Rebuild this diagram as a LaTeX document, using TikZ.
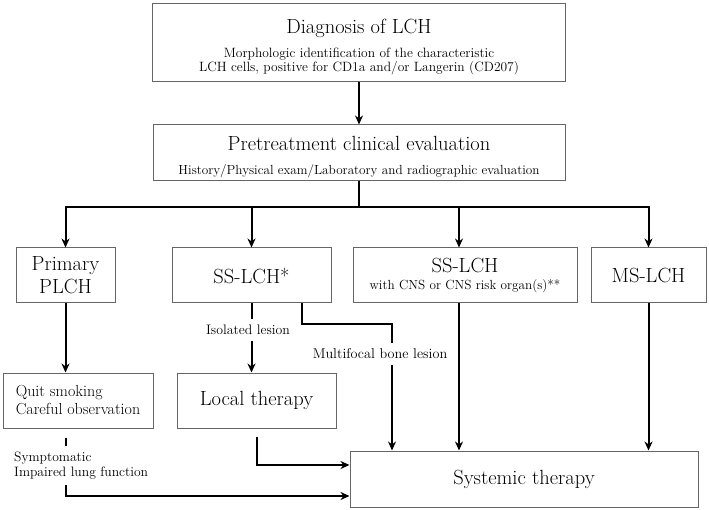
\documentclass[tikz,border=0pt]{standalone}
\usepackage{amsmath}
\usetikzlibrary{arrows.meta}

\begin{document}
\begin{tikzpicture}[x=1pt,y=-1pt,
    box/.style={draw=black!60, line width=1pt, align=center, inner sep=0pt, minimum height=55pt},
    big/.style={font=\fontsize{20.5}{23}\selectfont},
    arr/.style={line width=2pt, -{Stealth[length=9pt,width=8pt]}},
    line/.style={line width=2pt},
    lbl/.style={fill=white, inner xsep=2pt, inner ysep=6pt, font=\fontsize{13.8}{15}\selectfont}]
    \useasboundingbox (0,0) rectangle (709,510);
    % top boxes
    \node[box, minimum width=413pt, minimum height=78pt, font=\fontsize{13.5}{13.5}\selectfont] (diag) at (359,43)
        {{\fontsize{20.5}{23}\selectfont\rule{0pt}{22pt}Diagnosis of LCH}\\[10pt]
         Morphologic identification of the characteristic\\
         LCH cells, positive for CD1a and/or Langerin (CD207)};
    \node[box, minimum width=412pt, minimum height=56pt, font=\fontsize{13.2}{14}\selectfont] (pre) at (359,153)
        {{\fontsize{20.5}{23}\selectfont\rule{0pt}{22pt}Pretreatment clinical evaluation}\\[10pt]
         History/Physical exam/Laboratory and radiographic evaluation};
    % second row
    \node[box, big, minimum width=99pt] (plch) at (65.5,275.5) {Primary\\PLCH};
    \node[box, big, minimum width=159pt] (ss) at (251.5,275.5) {SS-LCH*};
    \node[box, big, minimum width=224pt] (cns) at (465,275.5)
        {SS-LCH\\[-6pt]{\fontsize{13.2}{14}\selectfont with CNS or CNS risk organ(s)**}};
    \node[box, big, minimum width=115pt] (ms) at (648.5,275.5) {MS-LCH};
    % third row
    \node[box, minimum width=150pt, align=left, font=\fontsize{16}{18}\selectfont] (quit) at (78,400.5)
        {Quit smoking\\Careful observation};
    \node[box, big, minimum width=159pt] (local) at (256.5,400.5) {Local therapy};
    \node[box, big, minimum width=348pt, minimum height=56pt] (sys) at (524,479) {Systemic therapy};

    % connectors
    \draw[arr] (diag) -- (pre);
    \coordinate (bar) at ([yshift=-26pt]pre.south);
    \draw[line] (pre.south) -- (bar);
    \draw[line, line cap=rect] (bar -| plch) -- (bar -| ms);
    \foreach \n in {plch,ss,ms}
        \draw[arr] (bar -| \n) -- (\n.north);
    \draw[arr] (bar -| 459,0) -- ([xshift=-6pt]cns.north);
    \draw[arr] (plch.south) -- (plch.south |- quit.north);
    \draw[arr] (ss.south) -- (ss.south |- local.north);
    \coordinate (mf) at (392,324);
    \draw[arr] ([xshift=50.5pt]ss.south) |- (mf) -- (mf |- sys.north);
    \draw[arr] ([xshift=-6pt]cns.south) -- ([xshift=-6pt]cns.south |- sys.north);
    \draw[arr] (ms.south) -- (ms.south |- sys.north);
    \draw[arr, shorten <=8pt] (local.south) |- ([yshift=14pt]sys.west);
    \draw[arr, shorten <=9pt] (quit.south -| plch.south) |- ([yshift=-17pt]sys.west);

    % labels on the connectors
    \node[lbl] (iso) at (248,330) {Isolated lesion};
    \node[lbl, font=\fontsize{14.2}{15}\selectfont] (multi) at (380,354) {Multifocal bone lesion};
    \node[lbl, anchor=west, align=left, font=\fontsize{13.6}{15}\selectfont] (sympt) at (12,465.5)
        {Symptomatic\\Impaired lung function};
\end{tikzpicture}
\end{document}
